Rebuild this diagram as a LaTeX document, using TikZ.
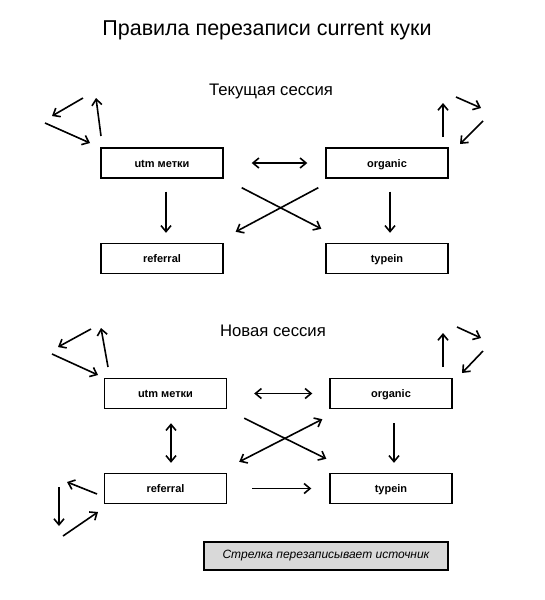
\documentclass[tikz,border=0pt]{standalone}
\usepackage{fontspec}
\setmainfont{Liberation Sans}
\usetikzlibrary{arrows.meta,calc}
\tikzset{
  srcbox/.style={draw, line width=1.4pt, minimum width=122pt, minimum height=30pt, inner sep=0pt, text height=10pt, text depth=1.5pt, font=\fontsize{11}{13}\selectfont\bfseries},
  arr/.style={line width=1.6pt, -{Straight Barb[length=6pt,width=10pt,line width=1.6pt]}},
  darr/.style={line width=1.6pt, {Straight Barb[length=6pt,width=10pt,line width=1.6pt]}-{Straight Barb[length=6pt,width=10pt,line width=1.6pt]}}
}
\begin{document}
\begin{tikzpicture}[x=1pt, y=-1pt]
    \useasboundingbox (0,0) rectangle (544,600);

    % Заголовки
    \node[font=\fontsize{21.5}{25}\selectfont] (title) at (267,30) {Правила перезаписи current куки};
    \node[font=\fontsize{16.7}{19}\selectfont] (cur) at (271,91) {Текущая сессия};
    \node[font=\fontsize{16.7}{19}\selectfont] (new) at (273,331) {Новая сессия};

    % Текущая сессия
    \node[srcbox] (utmA) at (162,163) {utm метки};
    \node[srcbox] (orgA) at (387,163) {organic};
    \node[srcbox] (refA) at (162,258.5) {referral};
    \node[srcbox] (typA) at (387,258.5) {typein};

    \draw[darr, shorten <=28pt, shorten >=18pt] (utmA.east) -- (orgA.west);
    \draw[arr, shorten <=13pt, shorten >=10pt] ([xshift=4pt]utmA.south) -- ([xshift=4pt]refA.north);
    \draw[arr, shorten <=13pt, shorten >=10pt] ([xshift=3pt]orgA.south) -- ([xshift=3pt]typA.north);
    \draw[arr] ($(utmA.south east)+(18,9)$) -- ($(typA.north west)+(-4,-14)$);
    \draw[arr] ($(orgA.south west)+(-7,9)$) -- ($(refA.north east)+(12,-11)$);

    % Петли
    \draw[arr] (83,98) -- (52,116);
    \draw[arr] (45,123) -- (90,143);
    \draw[arr] (101,136) -- (96,98);
    \draw[arr] (443,137) -- (443,103);
    \draw[arr] (456,97) -- (481,108);
    \draw[arr] (483,121) -- (460,144);

    % Новая сессия
    \node[srcbox] (utmB) at (165.5,393.5) {utm метки};
    \node[srcbox] (orgB) at (391,393.5) {organic};
    \node[srcbox] (refB) at (165.5,488.5) {referral};
    \node[srcbox] (typB) at (391,488.5) {typein};

    \draw[darr, shorten <=27pt, shorten >=17pt] (utmB.east) -- (orgB.west);
    \draw[darr, shorten <=14pt, shorten >=10pt] ([xshift=5.5pt]utmB.south) -- ([xshift=5.5pt]refB.north);
    \draw[arr, shorten <=14pt, shorten >=10pt] ([xshift=3pt]orgB.south) -- ([xshift=3pt]typB.north);
    \draw[arr, shorten <=25pt, shorten >=18pt] (refB.east) -- (typB.west);
    \draw[arr] ($(utmB.south east)+(17,9)$) -- ($(typB.north west)+(-3,-14)$);
    \draw[darr] ($(orgB.south west)+(-7,10)$) -- ($(refB.north east)+(12,-11)$);

    % Петли
    \draw[arr] (91,329) -- (58,347);
    \draw[arr] (52,354) -- (98,375);
    \draw[arr] (108,367) -- (101,328);
    \draw[arr] (97,494) -- (67,482);
    \draw[arr] (59,487) -- (59,526);
    \draw[arr] (63,536) -- (98,512);
    \draw[arr] (443,367) -- (443,333);
    \draw[arr] (457,327) -- (481,338);
    \draw[arr] (483,351) -- (462,373);

    % Легенда
    \node[draw, line width=1.4pt, fill=black!15, minimum width=244pt, minimum height=28pt, font=\fontsize{12}{14}\selectfont\itshape] (legend) at (326,556) {Стрелка перезаписывает источник};
\end{tikzpicture}
\end{document}
